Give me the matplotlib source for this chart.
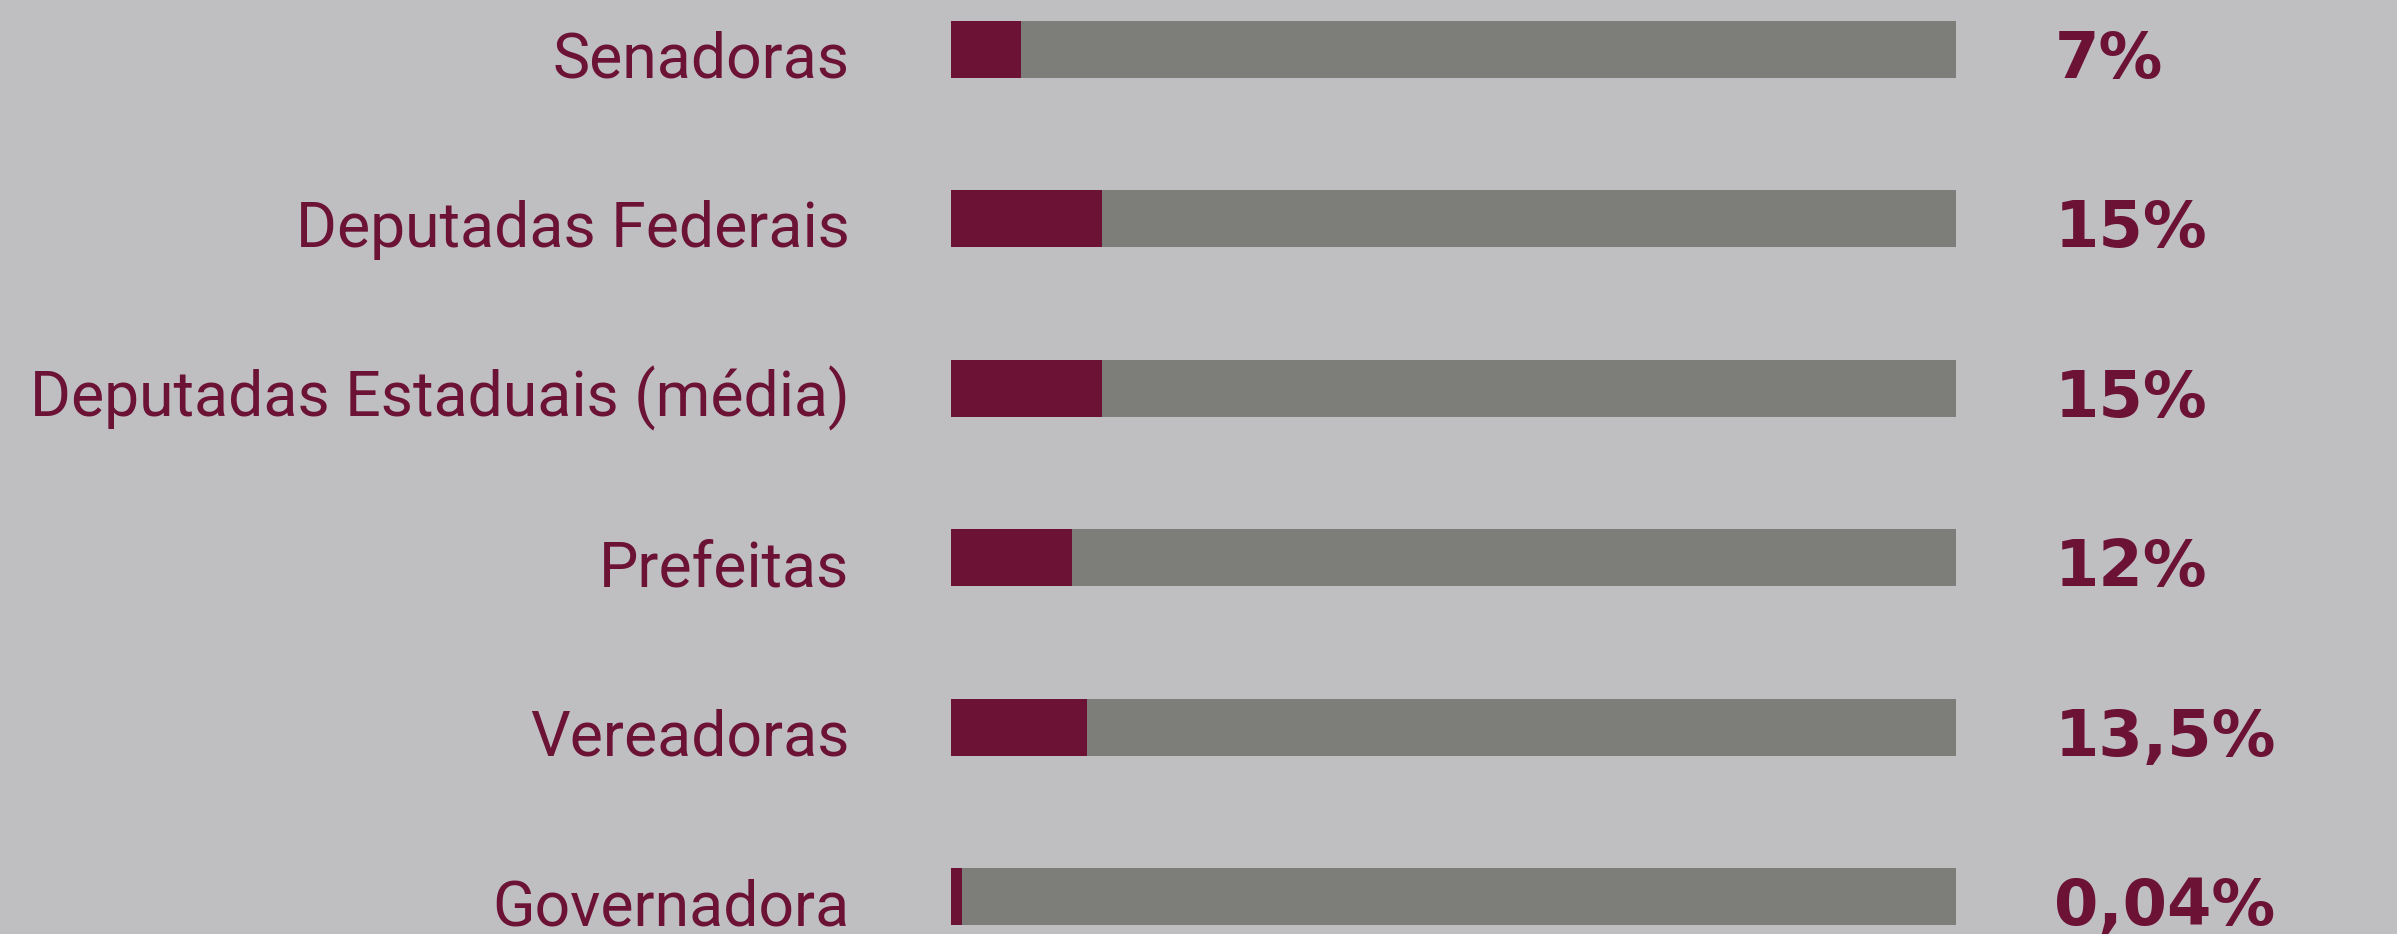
import matplotlib
matplotlib.use("Agg")
import matplotlib.pyplot as plt

categories = ["Senadoras", "Deputadas Federais", "Deputadas Estaduais (média)",
              "Prefeitas", "Vereadoras", "Governadora"]
values = [7, 15, 15, 12, 13.5, 0.04]
value_labels = ["7%", "15%", "15%", "12%", "13,5%", "0,04%"]

BG = "#BFBFC1"
FILL = "#6B1235"
TRACK = "#7D7E79"
MIN_VISIBLE = 1.1

W, H = 2397, 934
fig = plt.figure(figsize=(W / 100, H / 100), dpi=100, facecolor=BG)
ax = fig.add_axes([951 / W, 0, (1956 - 951) / W, 1])
ax.set_facecolor(BG)
ax.set_xlim(0, 100)
row_px = 169.4
first_px = 49.5
ax.set_ylim((H - first_px) / row_px, -first_px / row_px)
ax.axis("off")

bar_h = 57 / row_px
ypos = list(range(len(categories)))
ax.barh(ypos, [100] * len(ypos), height=bar_h, color=TRACK, left=0)
ax.barh(ypos, [max(v, MIN_VISIBLE) for v in values], height=bar_h, color=FILL, left=0)

label_font = ["Roboto", "Liberation Sans", "DejaVu Sans"]
for y, cat, lab in zip(ypos, categories, value_labels):
    base = y + bar_h / 2
    ax.text(-10.1, base, cat, ha="right", va="baseline", fontsize=45,
            color=FILL, family=label_font, clip_on=False)
    ax.text(109.8, base, lab, ha="left", va="baseline", fontsize=46,
            color=FILL, family=["DejaVu Sans"], fontweight="heavy", clip_on=False)

fig.savefig("out.png", dpi=100, facecolor=BG)
